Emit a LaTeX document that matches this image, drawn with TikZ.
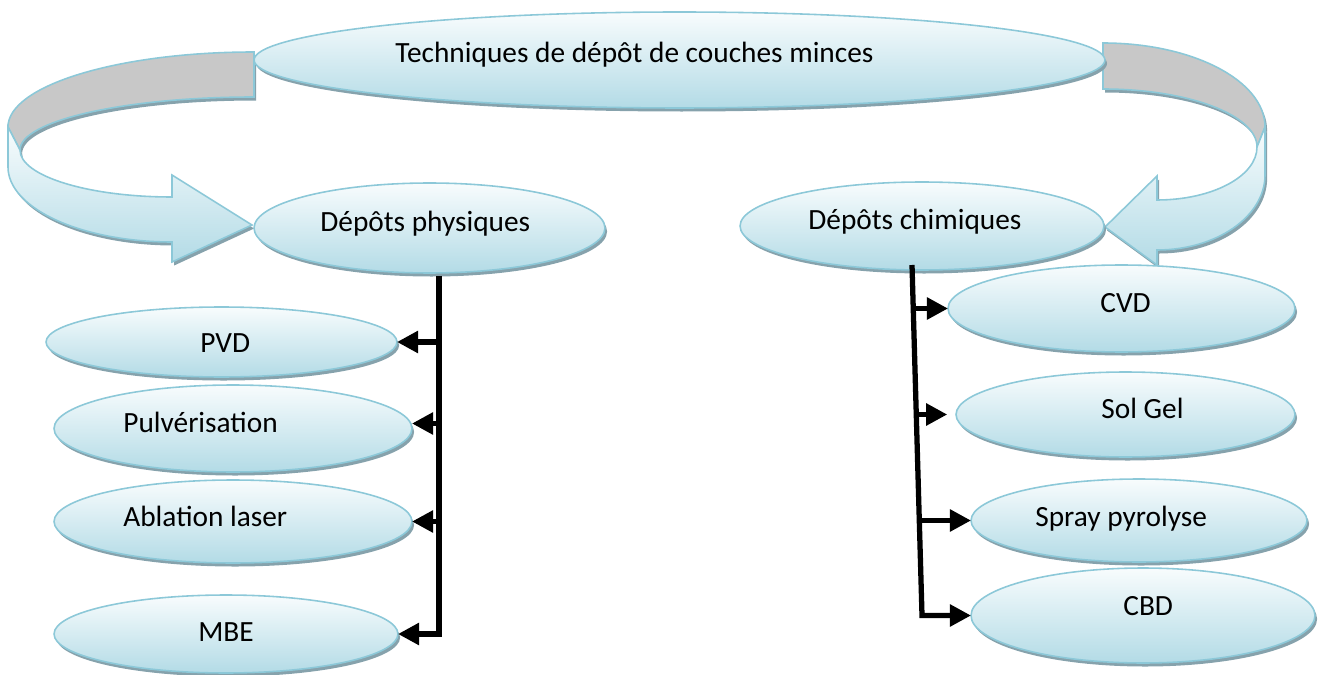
\documentclass[tikz,border=0pt]{standalone}
\usepackage{fontspec}
\setmainfont{Carlito}
\usetikzlibrary{arrows.meta,shapes.geometric,calc}
\definecolor{edgec}{HTML}{8CC8D8}
\definecolor{topc}{HTML}{F8FCFD}
\definecolor{botc}{HTML}{B3DBE6}
\definecolor{shadc}{HTML}{86A2AC}
\definecolor{grayc}{HTML}{C8C8C8}
\begin{document}
\begin{tikzpicture}[x=0.02cm,y=0.02cm,
  ell/.style={ellipse, draw=edgec, line width=0.9pt, top color=topc, bottom color=botc,
    inner sep=0pt, outer sep=0pt,
    preaction={fill=shadc, transform canvas={shift={(1.2pt,-2pt)}}}},
  lbl/.style={anchor=base west, font=\fontsize{16.7}{20}\selectfont, inner sep=0pt},
  conn/.style={line width=3pt, line join=miter, -{Triangle[length=12pt,width=12pt]}},
  band/.style={draw=edgec, line width=0.9pt,
    preaction={fill=shadc, transform canvas={shift={(1.2pt,-2pt)}}}}
]
\useasboundingbox (0,0) rectangle (1324,-675);

% curved ribbon arrows
\path[band, fill=grayc] (254,-52) arc[start angle=90, end angle=180, x radius=246, y radius=75]
  -- (20,-150) arc[start angle=180, end angle=90, x radius=234, y radius=53] -- cycle;
\path[band, top color=topc, bottom color=botc] (8,-127) -- (20,-150)
  arc[start angle=180, end angle=270, x radius=152, y radius=47]
  -- (172,-175) -- (252,-225) -- (172,-262) -- (172,-242)
  arc[start angle=270, end angle=180, x radius=164, y radius=75] -- cycle;

\path[band, fill=grayc] (1103,-43) arc[start angle=90, end angle=0, x radius=162, y radius=84]
  -- (1257,-147) arc[start angle=0, end angle=90, x radius=154, y radius=58] -- cycle;
\path[band, top color=topc, bottom color=botc] (1265,-127) -- (1257,-147)
  arc[start angle=0, end angle=-90, x radius=100, y radius=53]
  -- (1157,-176) -- (1105,-227) -- (1157,-265) -- (1157,-250)
  arc[start angle=-90, end angle=0, x radius=108, y radius=75] -- cycle;

% ellipses
\node[ell, minimum width=17.02cm, minimum height=1.92cm] (top) at (679.5,-60) {};
\node[ell, minimum width=7.02cm, minimum height=1.8cm] (phys) at (429.5,-228) {};
\node[ell, minimum width=7.28cm, minimum height=1.76cm] (chim) at (922,-226) {};
\node[ell, minimum width=7.02cm, minimum height=1.4cm] (pvd) at (221.5,-342) {};
\node[ell, minimum width=7.16cm, minimum height=1.74cm] (pulv) at (233,-428.5) {};
\node[ell, minimum width=7.16cm, minimum height=1.66cm] (abl) at (233,-521.5) {};
\node[ell, minimum width=6.88cm, minimum height=1.56cm] (mbe) at (226,-634) {};
\node[ell, minimum width=6.94cm, minimum height=1.74cm] (cvd) at (1121.5,-308.5) {};
\node[ell, minimum width=6.78cm, minimum height=1.7cm] (sol) at (1125.5,-414.5) {};
\node[ell, minimum width=6.72cm, minimum height=1.66cm] (spray) at (1139,-520.5) {};
\node[ell, minimum width=6.88cm, minimum height=1.9cm] (cbd) at (1143,-615.5) {};

% labels
\node[lbl] (topT) at (395,-63) {Techniques de dépôt de couches minces};
\node[lbl] (physT) at (320,-232) {Dépôts physiques};
\node[lbl] (chimT) at (808,-230) {Dépôts chimiques};
\node[lbl] (pvdT) at (200,-352) {PVD};
\node[lbl] (pulvT) at (123,-432) {Pulvérisation};
\node[lbl] (ablT) at (123,-526) {Ablation laser};
\node[lbl] (mbeT) at (198,-641) {MBE};
\node[lbl] (cvdT) at (1100,-313) {CVD};
\node[lbl] (solT) at (1101,-418) {Sol Gel};
\node[lbl] (sprayT) at (1035,-526) {Spray pyrolyse};
\node[lbl] (cbdT) at (1123,-615) {CBD};

% left tree
\coordinate (lt) at (439,-276);
\coordinate (pulvA) at ($(pulv.east)+(0,5)$);
\draw[conn] (lt) -- (lt |- mbe.east) -- (mbe.east);
\draw[conn] (lt |- pvd.east) -- (pvd.east);
\draw[conn] (lt |- pulvA) -- (pulvA);
\draw[conn] (lt |- abl.east) -- (abl.east);

% right tree
\coordinate (rt) at (912,-265);
\coordinate (rb) at (922,-615.5);
\coordinate (r1) at (913.2,-308.5);
\coordinate (r2) at (916.3,-414.5);
\coordinate (r3) at (919.4,-520.5);
\draw[conn] (rt) -- (rb) -- (cbd.west);
\draw[conn] (r1) -- (cvd.west);
\draw[conn, shorten >=5pt] (r2) -- (sol.west);
\draw[conn] (r3) -- (spray.west);
\end{tikzpicture}
\end{document}
